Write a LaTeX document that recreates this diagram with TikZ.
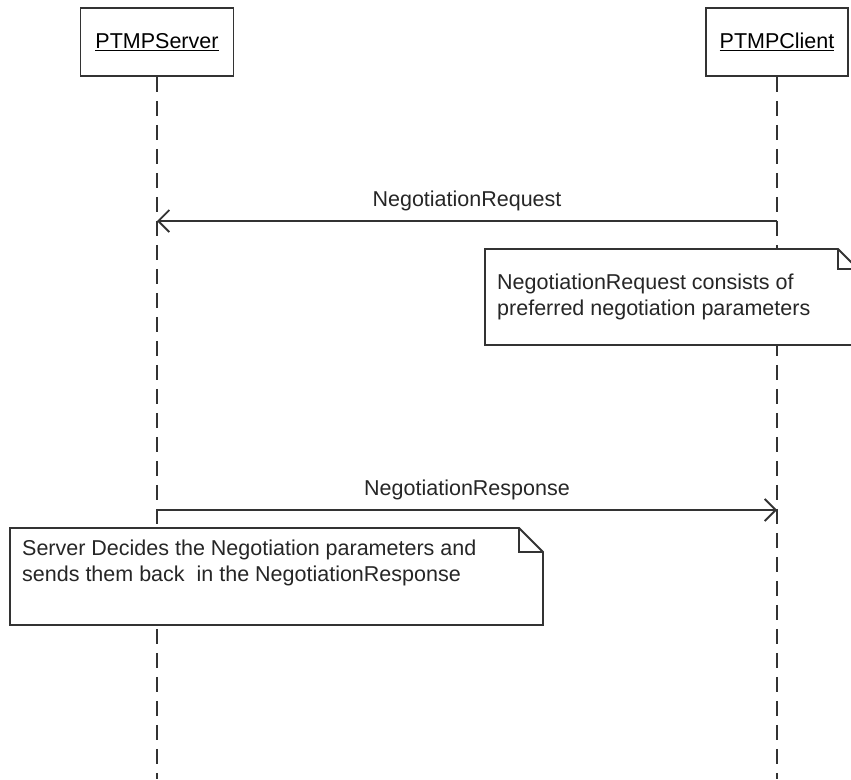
\documentclass[tikz,border=0pt]{standalone}
\usepackage{fontspec}
\setmainfont{Liberation Sans}
\usetikzlibrary{arrows.meta}
\begin{document}
\begin{tikzpicture}[x=1pt,y=-1pt,
  ink/.style={draw=black!80,line width=1.8pt},
  lifebox/.style={ink,fill=white,minimum width=#1,minimum height=68pt,inner sep=0pt},
  lifeline/.style={draw=black!80,line width=1.8pt,dash pattern=on 15pt off 9pt},
  msg/.style={ink,-{Straight Barb[length=11pt,width=22pt,line width=1.8pt]}},
  msglabel/.style={font=\fontsize{21.5}{25}\selectfont,text=black!85},
  notetext/.style={font=\fontsize{21.5}{25.5}\selectfont,text=black!85,align=left,anchor=north west,inner sep=0pt},
  notebox/.style={ink,fill=white,line join=miter}
]
\useasboundingbox (0,0) rectangle (851,779);
\clip (0,0) rectangle (851,779);

% participants
\node[lifebox=153pt] (server) at (157,42) {\fontsize{21.5}{25}\selectfont\underline{PTMPServer}};
\node[lifebox=142pt] (client) at (777,42) {\fontsize{21.5}{25}\selectfont\underline{PTMPClient}};

% lifelines
\coordinate (serverEnd) at (157,779);
\coordinate (clientEnd) at (777,779);
\draw[lifeline] (server.south) -- (serverEnd);
\draw[lifeline] (client.south) -- (clientEnd);

% NegotiationRequest
\coordinate (reqC) at (777,221);
\coordinate (reqS) at (157,221);
\draw[msg] (reqC) -- node[msglabel,above=6pt] (reqlabel) {NegotiationRequest} (reqS);

% note on the request
\path[notebox] (485,249) -- (838,249) -- (858,269) -- (858,345) -- (485,345) -- cycle;
\draw[ink,line join=miter] (838,249) -- (838,269) -- (858,269);
\node[notetext] (note1) at (497,274) {NegotiationRequest consists of\\preferred negotiation parameters};

% NegotiationResponse
\coordinate (resS) at (157,510);
\coordinate (resC) at (777,510);
\draw[msg] (resS) -- node[msglabel,above=6pt] (reslabel) {NegotiationResponse} (resC);

% note on the response
\path[notebox] (10,528) -- (519,528) -- (543,552) -- (543,625) -- (10,625) -- cycle;
\draw[ink,line join=miter] (519,528) -- (519,552) -- (543,552);
\node[notetext] (note2) at (22,540) {Server Decides the Negotiation parameters and\\sends them back\ \ in the NegotiationResponse};
\end{tikzpicture}
\end{document}
